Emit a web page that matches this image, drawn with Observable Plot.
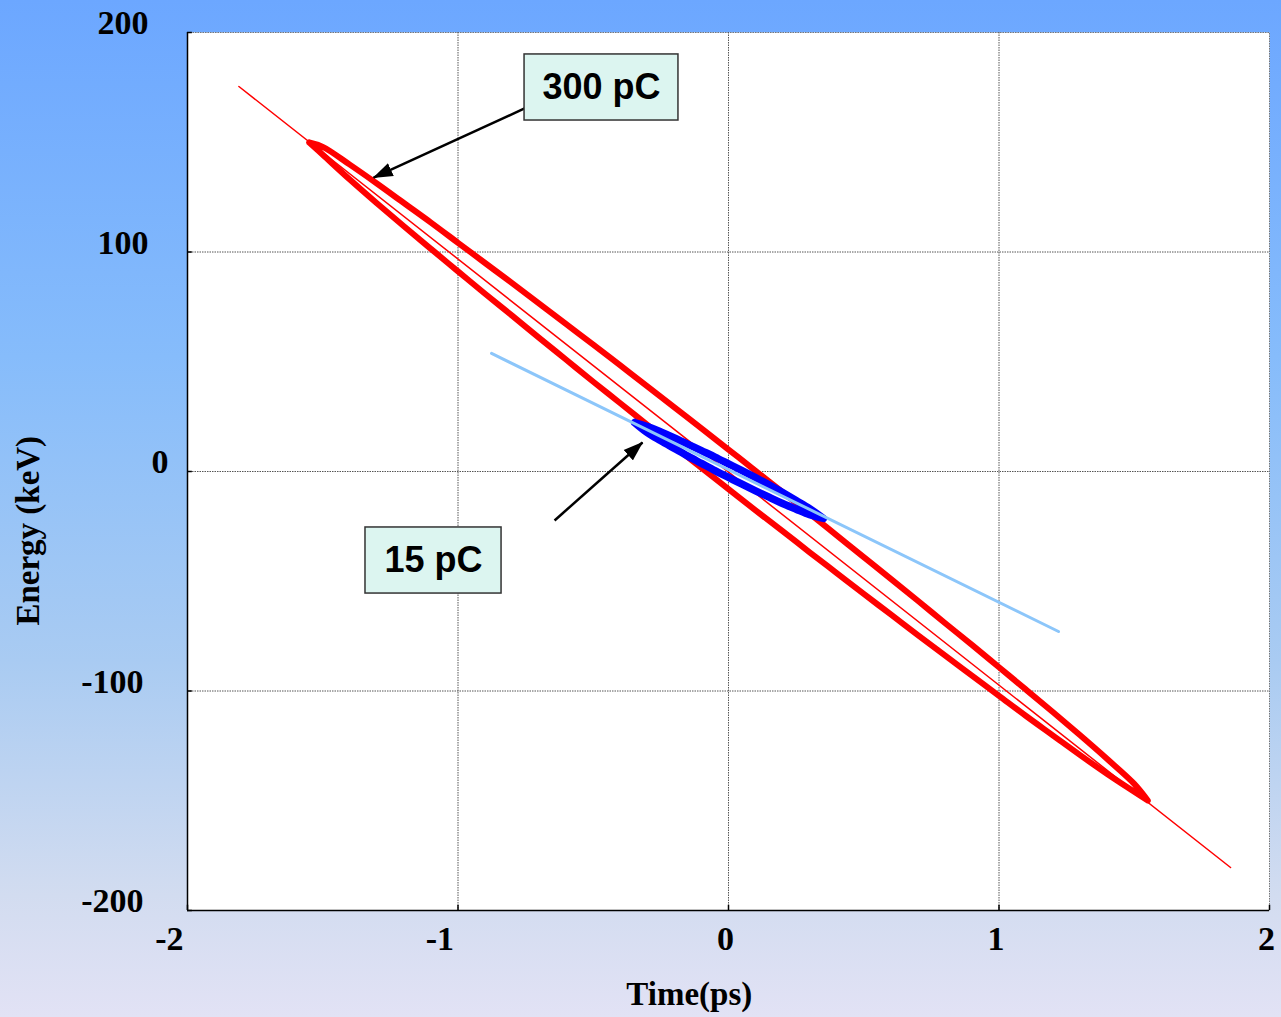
<!DOCTYPE html>
<html>
<head>
<meta charset="utf-8">
<script src="https://cdn.jsdelivr.net/npm/d3@7"></script>
<script src="https://cdn.jsdelivr.net/npm/@observablehq/plot@0.6"></script>
<style>
  html, body { margin: 0; padding: 0; }
  body {
    width: 1281px; height: 1017px; overflow: hidden;
    background: linear-gradient(to bottom, #6ca7ff 0%, #86bcfb 35%, #a9cbf2 65%, #d2dcf0 88%, #e2e2f5 100%);
  }
  #chart svg { display: block; }
</style>
</head>
<body>
<div id="chart"></div>
<script>
// ---- axis ticks ----
const xTicks = [-2, -1, 0, 1, 2];
const yTicks = [-200, -100, 0, 100, 200];

// ---- 300 pC bunch (red phase-space loop) ----
const redT = [-1.55, -1.5, -1.4, -1.3, -1.2, -1.1, -1.0, -0.9, -0.8, -0.7, -0.6, -0.5, -0.4, -0.3, -0.2, -0.1, 0, 0.1, 0.2, 0.3, 0.4, 0.5, 0.6, 0.7, 0.8, 0.9, 1.0, 1.1, 1.2, 1.3, 1.4, 1.5, 1.55];
const redUpper = [149.9, 147.9, 139.8, 131.2, 122.3, 113.4, 104.2, 95.0, 85.8, 76.5, 67.1, 57.8, 48.3, 38.8, 29.2, 19.7, 10.0, 0.3, -9.4, -19.2, -29.1, -39.0, -48.9, -58.9, -69.0, -79.0, -89.2, -99.4, -109.7, -120.2, -131.0, -142.3, -149.9];
const redLower = [149.9, 144.3, 133.0, 122.2, 111.7, 101.4, 91.2, 81.0, 71.0, 60.9, 50.9, 40.9, 31.1, 21.2, 11.4, 1.7, -8.0, -17.7, -27.2, -36.8, -46.3, -55.8, -65.1, -74.5, -83.8, -93.0, -102.2, -111.4, -120.3, -129.2, -137.8, -145.9, -149.9];

// ---- 15 pC bunch (blue phase-space loop) ----
const blueT = [-0.347, -0.3, -0.25, -0.2, -0.15, -0.1, -0.05, 0, 0.05, 0.1, 0.15, 0.2, 0.25, 0.3, 0.351];
const blueUpper = [22.3, 20.5, 18.0, 15.3, 12.4, 9.5, 6.6, 3.5, 0.4, -2.8, -6.1, -9.6, -13.2, -16.9, -21.4];
const blueLower = [22.3, 17.7, 14.0, 10.5, 7.0, 3.7, 0.4, -2.7, -5.8, -8.8, -11.7, -14.6, -17.2, -19.7, -21.4];

// ---- linear chirp fits ----
const redFitX = [-1.81, 1.856];
const redFitY = [175.4, -180.4];
const blueFitX = [-0.876, 1.22];
const blueFitY = [53.8, -72.9];

// ---- annotations ----
const labels = ["300 pC", "15 pC"];
const boxX1 = [-0.754, -1.342];
const boxX2 = [-0.185, -0.839];
const boxY1 = [159.9, -55.6];
const boxY2 = [190.0, -25.5];
const arrowFromX = [-0.754, -0.643];
const arrowFromY = [165.4, -22.3];
const arrowToX = [-1.312, -0.318];
const arrowToY = [133.9, 13.2];

// ---- build tables ----
function loop(t, up, lo) {
  const pts = t.map((v, i) => ({t: v, e: up[i]}));
  for (let i = t.length - 1; i >= 0; i--) pts.push({t: t[i], e: lo[i]});
  return pts;
}
const redLoop = loop(redT, redUpper, redLower);
const blueLoop = loop(blueT, blueUpper, blueLower);
const redFit = redFitX.map((x, i) => ({t: x, e: redFitY[i]}));
const blueFit = blueFitX.map((x, i) => ({t: x, e: blueFitY[i]}));
const boxes = labels.map((l, i) => ({label: l, x1: boxX1[i], x2: boxX2[i], y1: boxY1[i], y2: boxY2[i]}));
const arrows = labels.map((l, i) => ({x1: arrowFromX[i], y1: arrowFromY[i], x2: arrowToX[i], y2: arrowToY[i]}));

const serif = "'Liberation Serif', 'Times New Roman', serif";
const sans = "'Liberation Sans', Arial, sans-serif";
const tickFont = {fontFamily: serif, fontWeight: "bold", fontSize: 34, fill: "black"};

const chart = Plot.plot({
  width: 1281,
  height: 1017,
  marginLeft: 187,
  marginRight: 12,
  marginTop: 32,
  marginBottom: 107,
  style: {background: "transparent", overflow: "visible"},
  x: {domain: [-2, 2], axis: null},
  y: {domain: [-200, 200], axis: null},
  marks: [
    Plot.frame({fill: "white", stroke: "#777", strokeDasharray: "1.5,1"}),
    Plot.ruleX(xTicks.slice(1, -1), {stroke: "#555", strokeWidth: 1, strokeDasharray: "1.5,1"}),
    Plot.ruleY(yTicks.slice(1, -1), {stroke: "#555", strokeWidth: 1, strokeDasharray: "1.5,1"}),
    Plot.ruleX([-2], {stroke: "black", strokeWidth: 1.5}),
    Plot.ruleY([-200], {stroke: "black", strokeWidth: 1.5}),
    Plot.ruleY(yTicks, {x1: -2, x2: -1.982, stroke: "black", strokeWidth: 1.5}),
    Plot.ruleX(xTicks, {y1: -200, y2: -197.6, stroke: "black", strokeWidth: 1.5}),
    // y tick labels
    Plot.text(yTicks.filter(d => d > 0), {x: -2, y: d => d, text: d => String(d), dx: -39, dy: -9, textAnchor: "end", ...tickFont}),
    Plot.text(yTicks.filter(d => d === 0), {x: -2, y: d => d, text: d => String(d), dx: -19, dy: -9, textAnchor: "end", ...tickFont}),
    Plot.text(yTicks.filter(d => d < 0), {x: -2, y: d => d, text: d => String(d), dx: -44, dy: -9, textAnchor: "end", ...tickFont}),
    // x tick labels
    Plot.text(xTicks.filter(d => d < 0), {x: d => d, y: -200, text: d => String(d), dx: -4, dy: 29, textAnchor: "end", ...tickFont}),
    Plot.text(xTicks.filter(d => d >= 0), {x: d => d, y: -200, text: d => String(d), dx: -3, dy: 29, textAnchor: "middle", ...tickFont}),
    // axis titles
    Plot.text(["Time(ps)"], {x: -0.145, y: -200, text: d => d, dy: 84,
      fontFamily: serif, fontWeight: "bold", fontSize: 33, fill: "black"}),
    Plot.text(["Energy (keV)"], {x: -2, y: -27, text: d => d, dx: -159, rotate: -90,
      fontFamily: serif, fontWeight: "bold", fontSize: 33, fill: "black"}),
    // data
    Plot.line(redFit, {x: "t", y: "e", stroke: "#ff0000", strokeWidth: 1.5}),
    Plot.line(redLoop, {x: "t", y: "e", stroke: "#ff0000", strokeWidth: 6, strokeLinejoin: "round", curve: "catmull-rom"}),
    Plot.line(blueLoop, {x: "t", y: "e", stroke: "#0000ff", strokeWidth: 7.5, strokeLinejoin: "round", curve: "catmull-rom"}),
    Plot.line(blueFit, {x: "t", y: "e", stroke: "#8cc6fa", strokeWidth: 3}),
    // annotations
    Plot.link(arrows, {x1: "x1", y1: "y1", x2: "x2", y2: "y2", stroke: "black", strokeWidth: 2.5, markerEnd: "arrow"}),
    Plot.rect(boxes, {x1: "x1", x2: "x2", y1: "y1", y2: "y2", fill: "#dcf5f0", stroke: "#333", strokeWidth: 1.5}),
    Plot.text(boxes, {x: d => (d.x1 + d.x2) / 2, y: d => (d.y1 + d.y2) / 2, text: "label",
      fontFamily: sans, fontWeight: "bold", fontSize: 36, fill: "black"})
  ]
});

// filled arrowheads
chart.querySelectorAll("marker").forEach(m => {
  m.setAttribute("viewBox", "-19 -7.5 20 15");
  m.setAttribute("markerUnits", "userSpaceOnUse");
  m.setAttribute("markerWidth", 20);
  m.setAttribute("markerHeight", 15);
  m.setAttribute("fill", "black");
  m.setAttribute("stroke", "none");
  const p = m.querySelector("path");
  if (p) p.setAttribute("d", "M-19,-7L1,0L-19,7Z");
});

document.getElementById("chart").appendChild(chart);
</script>
</body>
</html>
